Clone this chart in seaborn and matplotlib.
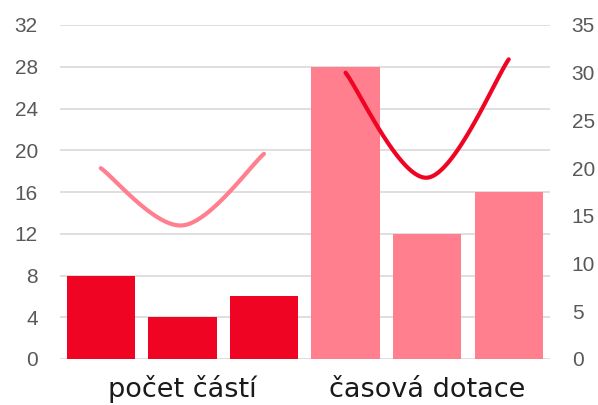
import numpy as np
import pandas as pd
import matplotlib
matplotlib.use("Agg")
import matplotlib.pyplot as plt
import matplotlib.transforms as mtransforms
import seaborn as sns

# Category groups and bar values (primary axis)
group_names = ["počet částí", "časová dotace"]
bar_values = [8, 4, 6, 28, 12, 16]
bar_group = ["počet částí"] * 3 + ["časová dotace"] * 3

# Smoothed line series (secondary axis), one per group
line_parts = [20, 14, 21.5]
line_time = [30, 19, 31.4]

left_ticks = [0, 4, 8, 12, 16, 20, 24, 28, 32]
right_ticks = [0, 5, 10, 15, 20, 25, 30, 35]

RED = "#EF0523"
PINK = "#FF7F8F"
GRID = "#D9D9D9"
TICK = "#595959"


def smooth(xs, ys, n=60):
    """Cubic Bezier smoothing through all points (Catmull-Rom style)."""
    pts = np.column_stack([xs, ys]).astype(float)
    m = len(pts)
    out = []
    for i in range(m - 1):
        p0 = pts[max(i - 1, 0)]
        p1 = pts[i]
        p2 = pts[i + 1]
        p3 = pts[min(i + 2, m - 1)]
        c1 = p1 + (p2 - p0) / 6.0
        c2 = p2 - (p3 - p1) / 6.0
        t = np.linspace(0, 1, n)[:, None]
        seg = ((1 - t) ** 3) * p1 + 3 * ((1 - t) ** 2) * t * c1 + 3 * (1 - t) * t ** 2 * c2 + t ** 3 * p2
        out.append(seg if i == 0 else seg[1:])
    arr = np.vstack(out)
    return arr[:, 0], arr[:, 1]


sns.set_style("white")
plt.rcParams["font.family"] = ["Liberation Sans", "DejaVu Sans"]

fig = plt.figure(figsize=(5.98, 4.05), dpi=100)
ax = fig.add_axes([60 / 598, 1 - 359 / 405, 489.5 / 598, 334 / 405])

df = pd.DataFrame({"pos": list(range(len(bar_values))), "value": bar_values, "group": bar_group})
sns.barplot(data=df, x="pos", y="value", hue="group", palette={group_names[0]: RED, group_names[1]: PINK},
            dodge=False, width=0.837, saturation=1, legend=False, ax=ax, zorder=2,
            linewidth=0, edgecolor="none")

ax.set_xlim(-0.5, 5.5)
ax.set_ylim(0, 32)
ax.set_yticks(left_ticks)
ax.set_xticks([])
ax.set_xlabel("")
ax.set_ylabel("")
ax.grid(axis="y", color=GRID, lw=1.2, zorder=0)
ax.set_axisbelow(True)
for s in ax.spines.values():
    s.set_visible(False)
ax.tick_params(axis="y", length=0, labelsize=15, labelcolor=TICK, pad=16)

ax2 = ax.twinx()
ax2.set_ylim(0, 35)
ax2.set_yticks(right_ticks)
for s in ax2.spines.values():
    s.set_visible(False)
ax2.tick_params(axis="y", length=0, labelsize=15, labelcolor=TICK, pad=16)

xa, ya = smooth([0, 1, 2], line_parts)
xb, yb = smooth([3, 4, 5], line_time)
sns.lineplot(x=xa, y=ya, ax=ax2, color=PINK, lw=3, sort=False, estimator=None)
sns.lineplot(x=xb, y=yb, ax=ax2, color=RED, lw=3, sort=False, estimator=None)
ax2.set_ylabel("")

trans = mtransforms.blended_transform_factory(ax.transData, fig.transFigure)
for center, name in zip([1, 4], group_names):
    ax.text(center, 8 / 405, name, transform=trans, ha="center", va="baseline",
            fontsize=19.5, color="#1A1A1A", family=["DejaVu Sans"])

fig.savefig("out.png", dpi=100)
